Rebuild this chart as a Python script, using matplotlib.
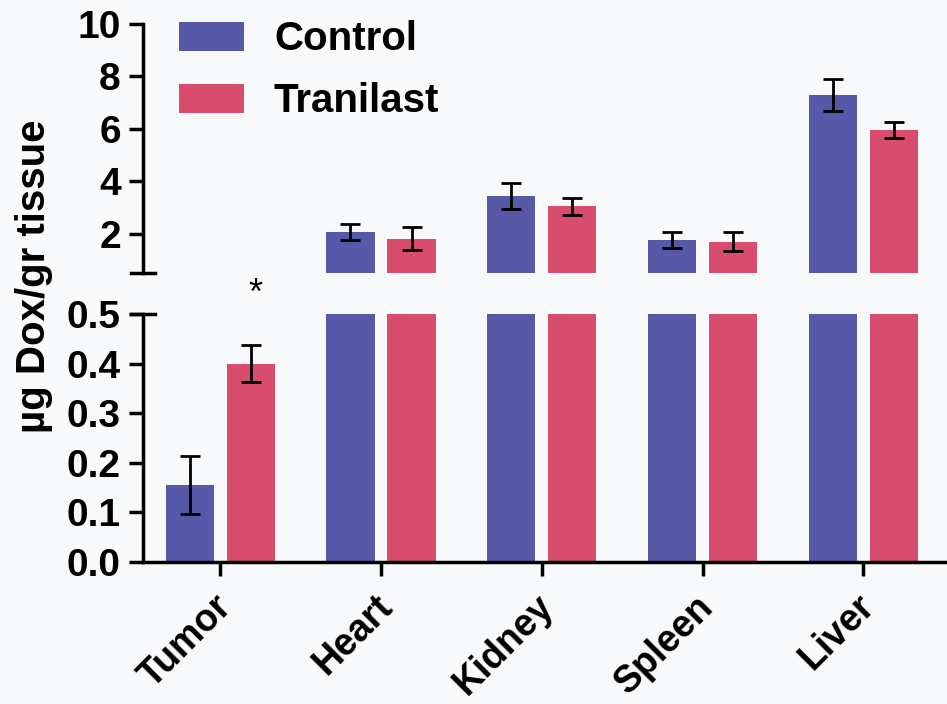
import numpy as np
import matplotlib.pyplot as plt
from matplotlib.transforms import ScaledTranslation

# Data
organs = ['Tumor', 'Heart', 'Kidney', 'Spleen', 'Liver']
control = [0.155, 2.07, 3.45, 1.75, 7.3]
control_err = [0.058, 0.3, 0.5, 0.3, 0.6]
tranilast = [0.40, 1.82, 3.05, 1.7, 5.95]
tranilast_err = [0.038, 0.45, 0.33, 0.35, 0.3]

blue = '#5659A8'
red = '#D84D6D'
bg = '#F8F9FB'

plt.rcParams['font.family'] = ['Liberation Sans', 'DejaVu Sans']
plt.rcParams['font.weight'] = 'bold'

fig = plt.figure(figsize=(9.47, 7.04), dpi=100, facecolor=bg)
ax_top = fig.add_axes([0.151, 0.612, 0.849, 0.354], facecolor=bg)
ax_bot = fig.add_axes([0.151, 0.202, 0.849, 0.352], facecolor=bg)

x = np.arange(len(organs))
w = 0.30
off = 0.19
err_kw = dict(ecolor='black', elinewidth=2, capsize=7, capthick=2)

for ax in (ax_top, ax_bot):
    ax.bar(x - off, control, w, color=blue, yerr=control_err, error_kw=err_kw,
           label='Control')
    ax.bar(x + off, tranilast, w, color=red, yerr=tranilast_err, error_kw=err_kw,
           label='Tranilast')
    ax.set_xlim(-0.48, 4.52)
    for s in ('top', 'right'):
        ax.spines[s].set_visible(False)
    ax.spines['left'].set_linewidth(2.5)
    ax.tick_params(axis='y', direction='out', length=10, width=2.5,
                   labelsize=28, pad=6)

# top panel
ax_top.set_ylim(0.5, 10)
ax_top.set_yticks([2, 4, 6, 8, 10])
ax_top.spines['bottom'].set_visible(False)
ax_top.set_xticks([])
ax_top.plot([-0.015, 0.015], [0, 0], transform=ax_top.transAxes, color='black',
            lw=2.5, clip_on=False)

# bottom panel
ax_bot.set_ylim(0, 0.5)
ax_bot.set_yticks([0.0, 0.1, 0.2, 0.3, 0.4, 0.5])
ax_bot.set_yticklabels(['0.0', '0.1', '0.2', '0.3', '0.4', '0.5'])
ax_bot.spines['bottom'].set_linewidth(2.5)
ax_bot.plot([-0.015, 0.015], [1, 1], transform=ax_bot.transAxes, color='black',
            lw=2.5, clip_on=False)
ax_bot.set_xticks(x)
ax_bot.set_xticklabels(organs, rotation=45, ha='right', rotation_mode='anchor')
ax_bot.tick_params(axis='x', direction='out', length=10, width=2.5,
                   labelsize=27, pad=9)
shift = ScaledTranslation(-5 / 72, 0, fig.dpi_scale_trans)
for lab in ax_bot.get_xticklabels():
    lab.set_transform(lab.get_transform() + shift)

# significance mark
ax_bot.text(x[0] + off + 0.03, 0.54, '*', ha='center', va='center', fontsize=26,
            fontweight='normal', clip_on=False)

ax_top.legend(loc='upper left', bbox_to_anchor=(0.0, 1.16), frameon=False,
              fontsize=29, handlelength=1.6, handleheight=0.75, labelspacing=0.6,
              handletextpad=0.75)

fig.text(0.036, 0.607, 'µg Dox/gr tissue', rotation=90, ha='center', va='center',
         fontsize=29, fontweight='bold')

fig.savefig('out.png', dpi=100, facecolor=bg)
